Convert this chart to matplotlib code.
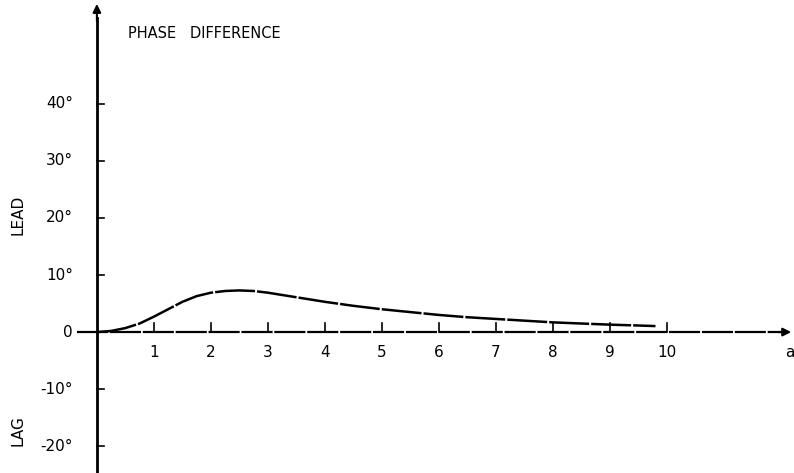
import matplotlib
matplotlib.use("Agg")
import matplotlib.pyplot as plt

# phase difference curve (a, degrees)
a_vals = [0, 0.25, 0.5, 0.75, 1.0, 1.25, 1.5, 1.75, 2.0, 2.25, 2.5, 2.75, 3.0, 3.5, 4.0,
          4.5, 5.0, 5.5, 6.0, 6.5, 7.0, 7.5, 8.0, 8.5, 9.0, 9.5, 9.8]
phase = [0, 0.2, 0.7, 1.5, 2.7, 4.0, 5.3, 6.3, 6.9, 7.2, 7.3, 7.2, 6.9, 6.1, 5.3,
         4.6, 4.0, 3.5, 3.0, 2.6, 2.3, 2.0, 1.7, 1.5, 1.3, 1.15, 1.05]

x_ticks = [1, 2, 3, 4, 5, 6, 7, 8, 9, 10]
x_labels = ["1", "2", "3", "4", "5", "6", "7", "8", "9", "10"]
y_ticks = [40, 30, 20, 10, 0, -10, -20]
y_labels = ["40°", "30°", "20°", "10°", "0", "-10°", "-20°"]

fig = plt.figure(figsize=(7.94, 4.73), dpi=100)
ax = fig.add_axes([0, 0, 1, 1])
ax.set_xlim(-1.70, 12.23)
ax.set_ylim(-24.7, 58.2)
ax.axis("off")

ink = "black"

# y axis with arrow
ax.plot([0, 0], [-25, 55], color=ink, lw=2.0)
ax.annotate("", xy=(0, 58), xytext=(0, 54),
            arrowprops=dict(arrowstyle="-|>", color=ink, lw=1.5, mutation_scale=12))

# x axis (dashed in the scan) with arrow
ax.plot([-0.35, 12.0], [0, 0], color=ink, lw=1.6, ls=(0, (14, 0.8)))
ax.annotate("", xy=(12.23, 0), xytext=(11.9, 0),
            arrowprops=dict(arrowstyle="-|>", color=ink, lw=1.5, mutation_scale=12))

# ticks
for t, lab in zip(x_ticks, x_labels):
    ax.plot([t, t], [0, 1.6], color=ink, lw=1.2)
    ax.text(t, -2.2, lab, ha="center", va="top", fontsize=11)
for t, lab in zip(y_ticks, y_labels):
    if t != 0:
        ax.plot([0, 0.12], [t, t], color=ink, lw=1.2)
    ax.text(-0.42, t, lab, ha="right", va="center", fontsize=11)

# curve
ax.plot(a_vals, phase, color=ink, lw=1.8, ls=(0, (16, 0.8)))

ax.text(0.55, 52.4, "PHASE   DIFFERENCE", ha="left", va="center", fontsize=10.5)
ax.text(-1.38, 20.5, "LEAD", rotation=90, ha="center", va="center", fontsize=11)
ax.text(-1.38, -17.2, "LAG", rotation=90, ha="center", va="center", fontsize=11)
ax.text(12.15, -3.5, "a", ha="center", va="center", fontsize=11)

fig.savefig("out.png", dpi=100)
